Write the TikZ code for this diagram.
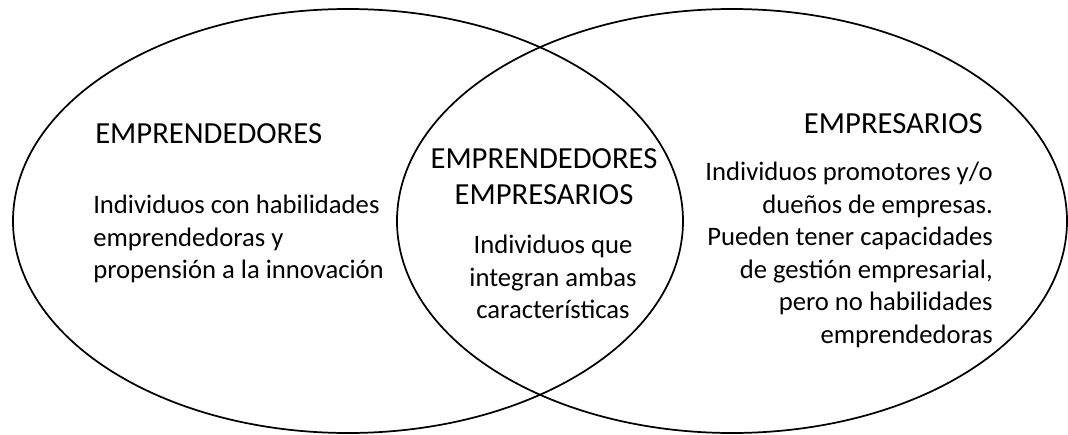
\documentclass[tikz,border=0pt]{standalone}
\usepackage{fontspec}
\setmainfont{Carlito}
\usepackage{tikz}
\usetikzlibrary{shapes.geometric}
\usetikzlibrary{positioning}

\begin{document}
\begin{tikzpicture}[x=0.75pt, y=0.75pt,
    conjunto/.style={ellipse, draw, line width=1.3pt, inner sep=0pt, minimum width=502.5pt, minimum height=318pt},
    titulo/.style={inner sep=0pt, font=\fontsize{23}{27}\selectfont},
    texto/.style={inner sep=0pt, font=\fontsize{20}{24.4}\selectfont}]

        \useasboundingbox (0,0) rectangle (1068,-435);

        % Conjuntos
        \node[conjunto] (E) at (348,-221) {};
        \node[conjunto] (S) at (732,-221) {};

        % Emprendedores
        \node[titulo, anchor=base west] (tE) at (95,-143) {EMPRENDEDORES};
        \node[texto, anchor=north west, align=left] (dE) at (93,-195) {Individuos con habilidades\\emprendedoras y\\propensión a la innovación};

        % Interseccion
        \node[titulo, anchor=north, align=center] (tES) at (544,-148) {EMPRENDEDORES\\EMPRESARIOS};
        \node[texto, anchor=north, align=center] (dES) at (553,-235) {Individuos que\\integran ambas\\características};

        % Empresarios
        \node[titulo, anchor=base east] (tS) at (983,-133) {EMPRESARIOS};
        \node[texto, anchor=north east, align=right] (dS) at (993,-162) {Individuos promotores y/o\\dueños de empresas.\\Pueden tener capacidades\\de gestión empresarial,\\pero no habilidades\\emprendedoras};

    \end{tikzpicture}
\end{document}
